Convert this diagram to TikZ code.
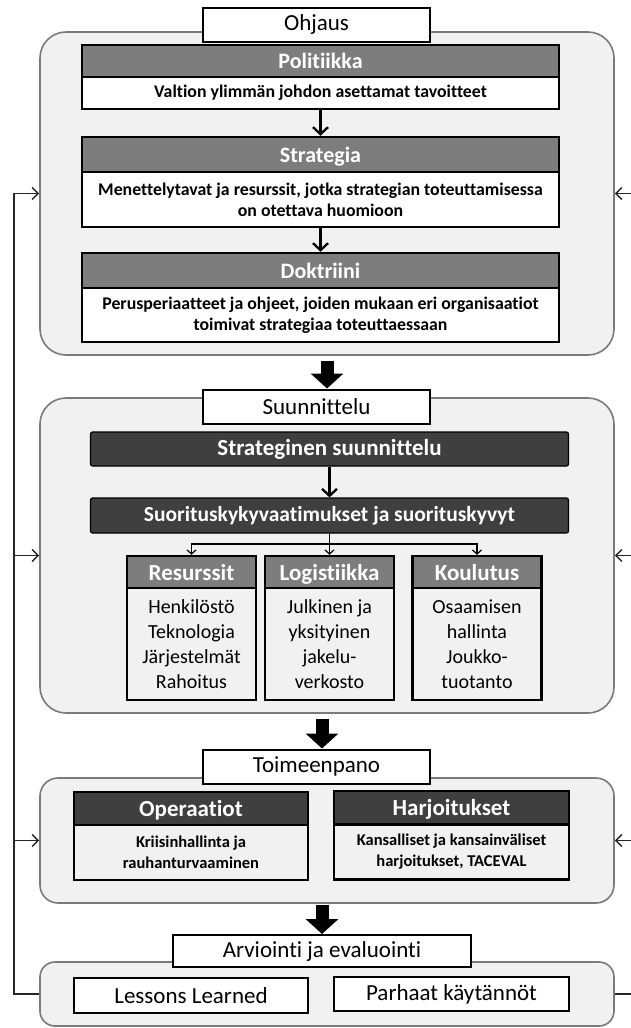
\documentclass[tikz,border=0pt]{standalone}
\usepackage{fontspec}
\setmainfont{Carlito}[Ligatures=NoCommon]
\usetikzlibrary{arrows.meta}
\definecolor{reuna}{HTML}{7A7A7A}
\definecolor{tausta}{HTML}{F1F1F1}
\definecolor{harmaa}{HTML}{7D7D7D}
\definecolor{tumma}{HTML}{3F3F3F}
\newcommand{\nuoli}{\draw[-{Straight Barb[length=7pt,width=15pt]},line width=2.3pt]}
\newcommand{\paksu}{\draw[-{Triangle[length=15pt,width=32pt]},line width=13pt]}
\newcommand{\palaute}{\draw[-{Straight Barb[length=6pt,width=12pt]},line width=1.5pt,black!85]}
\tikzset{
  kehys/.style={draw=reuna, fill=tausta, line width=1.6pt, minimum width=574pt, rounded corners=26pt},
  otsikko/.style={draw=black, fill=white, line width=2pt, minimum width=227pt, minimum height=34pt,
    inner sep=0pt, font=\fontsize{23}{26}\selectfont},
  ylaosa/.style={draw=black, fill=harmaa, line width=2.5pt, minimum width=477pt, inner sep=0pt,
    text depth=0pt, text=white, font=\fontsize{22}{26}\selectfont\bfseries},
  alaosa/.style={draw=black, fill=white, line width=2.5pt, minimum width=477pt, inner sep=0pt,
    align=center, font=\fontsize{17.8}{21}\selectfont\bfseries},
  palkki/.style={draw=black, fill=tumma, line width=1.2pt, rounded corners=2pt, minimum width=478pt,
    inner sep=0pt, text=white, font=\bfseries},
  sarake/.style={draw=black, fill=harmaa, line width=2.5pt, minimum width=129pt, minimum height=32pt,
    inner sep=0pt, text depth=0pt, text=white, font=\fontsize{23}{26}\selectfont\bfseries},
  sarakeala/.style={draw=black, fill=tausta, line width=2.5pt, minimum width=129pt, minimum height=112pt,
    inner sep=0pt, align=center, font=\fontsize{20}{25}\selectfont},
  toimi/.style={draw=black, fill=tumma, line width=2.5pt, minimum width=234pt, minimum height=33pt,
    inner sep=0pt, text depth=0pt, text=white, font=\fontsize{23}{26}\selectfont\bfseries},
  toimiala/.style={draw=black, fill=tausta, line width=2.5pt, minimum width=234pt, minimum height=55pt,
    inner sep=0pt, align=center, font=\fontsize{16.5}{21}\selectfont\bfseries},
  oppi/.style={draw=black, fill=white, line width=2.5pt, minimum width=234pt, minimum height=34pt,
    inner sep=0pt, font=\fontsize{23}{26}\selectfont},
  haarau/.style={-{Straight Barb[length=4pt,width=9pt]}, line width=1.2pt}
}
\begin{document}
\begin{tikzpicture}[x=1pt,y=-1pt]
  \useasboundingbox[fill=white] (0,0) rectangle (631,1028);

  % kehykset
  \node(ohjausala) [kehys, minimum height=323pt]                  at (327,193.5) {};
  \node(suunala)   [kehys, minimum height=315pt]                  at (327,555.5) {};
  \node(toimala)   [kehys, minimum height=125pt, rounded corners=18pt] at (327,840.5) {};
  \node(arvioala)  [kehys, minimum height=64pt, rounded corners=15pt]  at (327,994)   {};

  % ohjaus
  \node(ohj)  [otsikko]                                   at (316.5,24.5) {Ohjaus};
  \node(pol)  [ylaosa, minimum height=32pt]               at (320.5,61)   {Politiikka};
  \node(polt) [alaosa, minimum height=32pt, below of=pol, node distance=32pt]
              {Valtion ylimmän johdon asettamat tavoitteet};
  \node(str)  [ylaosa, minimum height=35pt]               at (320.5,154.5) {Strategia};
  \node(strt) [alaosa, minimum height=55pt, below of=str, node distance=45pt]
              {Menettelytavat ja resurssit, jotka strategian toteuttamisessa\\on otettava huomioon};
  \node(dok)  [ylaosa, minimum height=35pt]               at (320.5,270.5) {Doktriini};
  \node(dokt) [alaosa, minimum height=54pt, below of=dok, node distance=44.5pt]
              {Perusperiaatteet ja ohjeet, joiden mukaan eri organisaatiot\\toimivat strategiaa toteuttaessaan};

  \nuoli(polt) -- (str);
  \nuoli(strt) -- (dok);

  % suunnittelu
  \node(suun) [otsikko]                                   at (316.5,406.5) {Suunnittelu};
  \node(sts)  [palkki, minimum height=34pt, font=\fontsize{23}{26}\selectfont\bfseries]
              at (329.5,449) {Strateginen suunnittelu};
  \node(sky)  [palkki, minimum height=35pt, font=\fontsize{21.5}{26}\selectfont\bfseries]
              at (329.5,515.5) {Suorituskykyvaatimukset ja suorituskyvyt};
  \nuoli(sts) -- (sky);

  \node(res)  [sarake]                                    at (191.5,572) {Resurssit};
  \node(log)  [sarake, right of=res, node distance=138pt]  {Logistiikka};
  \node(kou)  [sarake, right of=log, node distance=147.5pt] {Koulutus};
  \node(rest) [sarakeala, below of=res, node distance=72pt] {Henkilöstö\\Teknologia\\Järjestelmät\\Rahoitus};
  \node(logt) [sarakeala, below of=log, node distance=72pt] {Julkinen ja\\yksityinen\\jakelu-\\verkosto};
  \node(kout) [sarakeala, below of=kou, node distance=72pt] {Osaamisen\\hallinta\\Joukko-\\tuotanto};

  \coordinate(haara) at (329.5,544);
  \draw[line width=1.2pt] (sky) -- (haara);
  \draw[haarau] (haara) -| (res);
  \draw[haarau] (haara) -- (log);
  \draw[haarau] (haara) -| (kou);

  % toimeenpano
  \node(toim) [otsikko]                                   at (316.5,766.5) {Toimeenpano};
  \node(ope)  [toimi]                                     at (191,808.5)  {Operaatiot};
  \node(opet) [toimiala, below of=ope, node distance=44pt] {Kriisinhallinta ja\\rauhanturvaaminen};
  \node(har)  [toimi, minimum width=235pt]                at (451.5,807.5) {Harjoitukset};
  \node(hart) [toimiala, minimum width=235pt, below of=har, node distance=44.5pt]
              {Kansalliset ja kansainväliset\\harjoitukset, TACEVAL};

  % arviointi
  \node(arv)  [otsikko, minimum width=298pt, minimum height=32pt] at (322,951) {Arviointi ja evaluointi};
  \node(les)  [oppi, minimum height=35pt]                 at (191,995.5) {Lessons Learned};
  \node(par)  [oppi, minimum width=235pt]                 at (451.5,994) {Parhaat käytännöt};

  % siirtymät
  \paksu([yshift=-5pt]ohjausala.south) -- (ohjausala.south |- suun.north);
  \paksu([xshift=-5pt,yshift=-5pt]suunala.south) -- ([xshift=-5pt]suunala.south |- toim.north);
  \paksu([xshift=-5pt,yshift=-1pt]toimala.south) -- ([xshift=-5pt]toimala.south |- arv.north);

  % palaute
  \coordinate(vasen) at (14,994);
  \coordinate(oikea) at (631,994);
  \palaute(arvioala.west) -- (vasen) |- (ohjausala.west);
  \palaute(vasen |- suunala.west) -- (suunala.west);
  \palaute(vasen |- toimala.west) -- (toimala.west);
  \draw[line width=1.5pt,black!85] (arvioala.east) -- (oikea);
  \palaute(oikea |- ohjausala.east) -- (ohjausala.east);
  \palaute(oikea |- suunala.east) -- (suunala.east);
  \palaute(oikea |- toimala.east) -- (toimala.east);
\end{tikzpicture}
\end{document}
